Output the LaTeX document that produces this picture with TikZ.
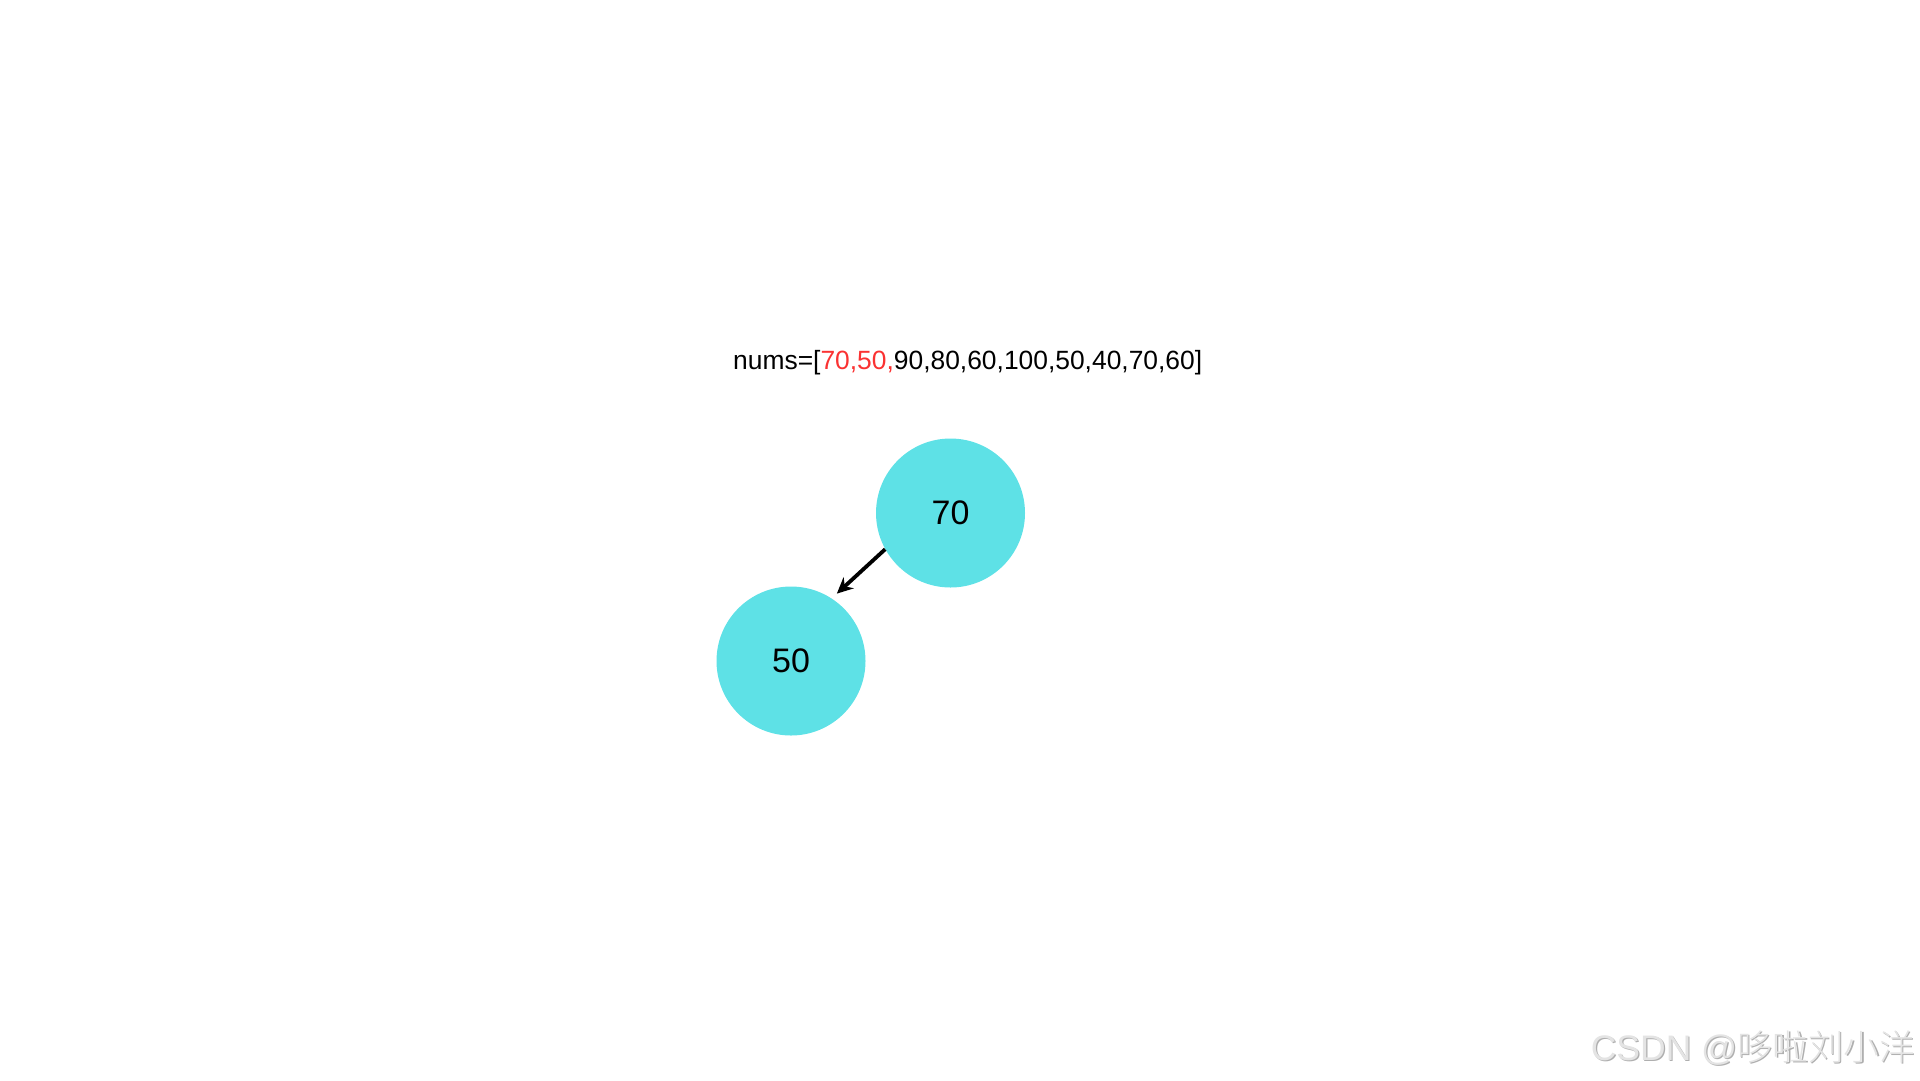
\documentclass[tikz,border=0pt]{standalone}
\usepackage{fontspec}
\setmainfont{Liberation Sans}
\newfontfamily\cjkfont{Noto Sans CJK SC Light}
\usetikzlibrary{arrows.meta}
\definecolor{nodecyan}{RGB}{94,225,230}
\definecolor{hlred}{RGB}{250,50,50}
\definecolor{wmgray}{RGB}{228,228,228}
\definecolor{wmshadow}{RGB}{175,175,175}
\tikzset{
  treenode/.style={circle, fill=nodecyan, draw=none, minimum size=149pt, inner sep=0pt, font=\fontsize{34}{40}\selectfont},
  edgearrow/.style={line width=3.8pt, -{Stealth[length=16pt,width=15pt]}, shorten >=7pt},
  wm/.style={font=\fontsize{35.5}{40}\selectfont, inner sep=0pt, anchor=base east}
}
\newcommand{\wmtext}{CSDN @{\cjkfont 哆啦刘小洋}}
\begin{document}
\begin{tikzpicture}[x=1pt,y=-1pt]
\useasboundingbox (0,0) rectangle (1920,1080);
\node[anchor=base west, inner sep=0pt, font=\fontsize{26.4}{32}\selectfont] (nums) at (733,369)
  {nums=[\textcolor{hlred}{70,50,}90,80,60,100,50,40,70,60]};
\node[treenode] (n70) at (950.5,513) {70};
\node[treenode] (n50) at (791,661) {50};
\draw[edgearrow] (n70.209.7) -- (n50.57.2);
\node[wm, text=wmshadow] (wms) at (1916.2,1061.2) {\wmtext};
\node[wm, text=wmgray] (wmt) at (1915,1060) {\wmtext};
\end{tikzpicture}
\end{document}
